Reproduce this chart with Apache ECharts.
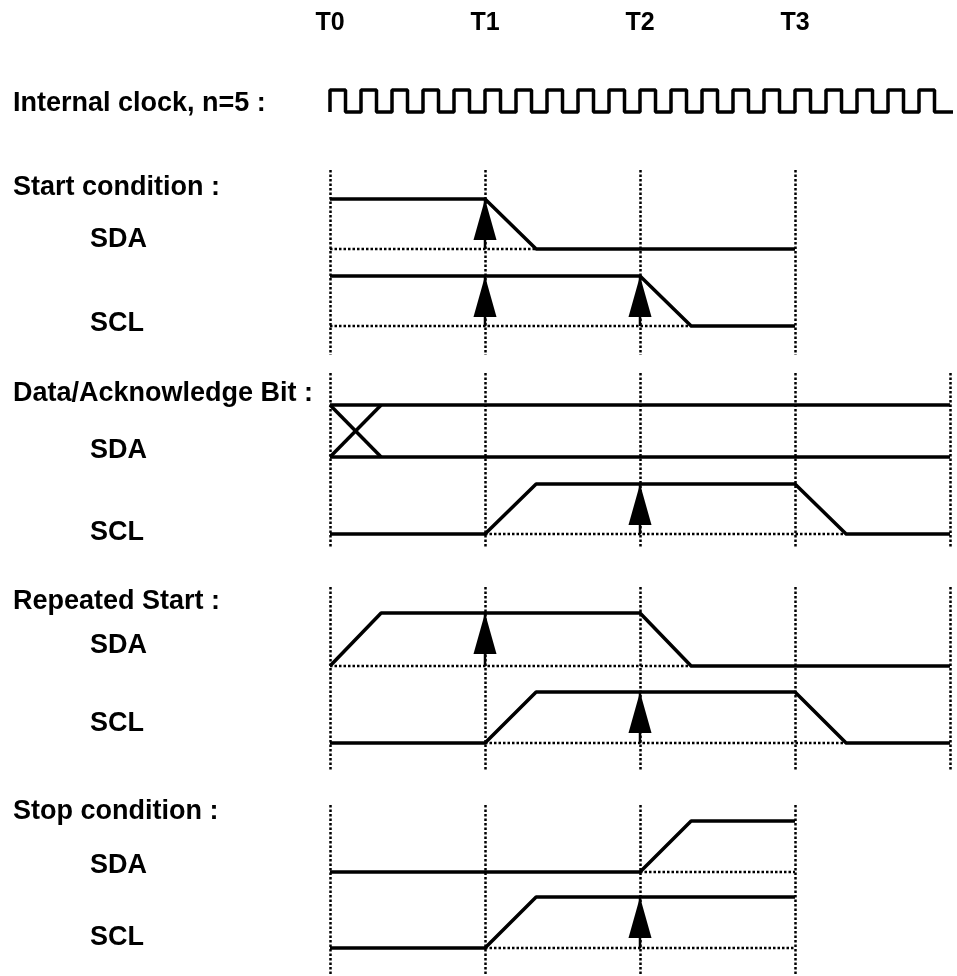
<!DOCTYPE html>
<html>
<head>
<meta charset="utf-8">
<script src="https://cdn.jsdelivr.net/npm/echarts@6/dist/echarts.min.js"></script>
<style>
  html, body { margin: 0; padding: 0; background: #fff; }
  #chart { width: 957px; height: 976px; }
</style>
</head>
<body>
<div id="chart"></div>
<script>
// ---------- data (time in T units, levels 0 = low, 1 = high) ----------
const tickLabels = ['T0', 'T1', 'T2', 'T3'];

// internal clock, n=5 : 5 clock periods per T, one level per half period
const clockHalfPeriod = 0.1;
const clockLevels = [1,0,1,0,1,0,1,0,1,0, 1,0,1,0,1,0,1,0,1,0,
                     1,0,1,0,1,0,1,0,1,0, 1,0,1,0,1,0,1,0,1,0];
const clockTailEnd = 4.05;

// Start condition
const startSDA = [[0,1],[1,1],[1.33,0],[3,0]];
const startSDABase = [[0,0],[1.33,0]];
const startSDAArrows = [1];
const startSCL = [[0,1],[2,1],[2.33,0],[3,0]];
const startSCLBase = [[0,0],[2.33,0]];
const startSCLArrows = [1, 2];

// Data / Acknowledge bit
const dataSDAHigh = [[0,1],[4,1]];
const dataSDALow = [[0,0],[4,0]];
const dataSDACrossA = [[0,1],[0.33,0]];
const dataSDACrossB = [[0,0],[0.33,1]];
const dataSCL = [[0,0],[1,0],[1.33,1],[3,1],[3.33,0],[4,0]];
const dataSCLBase = [[1,0],[3.33,0]];
const dataSCLArrows = [2];

// Repeated start
const repSDA = [[0,0],[0.33,1],[2,1],[2.33,0],[4,0]];
const repSDABase = [[0,0],[2.33,0]];
const repSDAArrows = [1];
const repSCL = [[0,0],[1,0],[1.33,1],[3,1],[3.33,0],[4,0]];
const repSCLBase = [[1,0],[3.33,0]];
const repSCLArrows = [2];

// Stop condition
const stopSDA = [[0,0],[2,0],[2.33,1],[3,1]];
const stopSDABase = [[2,0],[3,0]];
const stopSCL = [[0,0],[1,0],[1.33,1],[3,1]];
const stopSCLBase = [[1,0],[3,0]];
const stopSCLArrows = [2];

// ---------- layout ----------
const X0 = 330, TW = 155; // pixel of T0, width of one T
const FONT = '"Liberation Sans", Arial, sans-serif';
const DOT = { color: '#000', width: 2.5, type: [2.5, 2] };

const grids = [], xAxes = [], yAxes = [], series = [];

function addGrid(top, height, xMax, withSplit) {
  grids.push({ left: X0, top: top, width: TW * xMax, height: height, containLabel: false });
  const gi = grids.length - 1;
  xAxes.push({
    gridIndex: gi, type: 'value', min: 0, max: xMax, interval: 1,
    axisLine: { show: false }, axisTick: { show: false }, axisLabel: { show: false },
    splitLine: withSplit ? { show: true, showMinLine: true, showMaxLine: true, lineStyle: DOT }
                         : { show: false }
  });
  yAxes.push({
    gridIndex: gi, type: 'value', min: 0, max: 1,
    axisLine: { show: false }, axisTick: { show: false }, axisLabel: { show: false },
    splitLine: { show: false }
  });
  return gi;
}

function solid(gi, data, w) {
  series.push({ type: 'line', xAxisIndex: gi, yAxisIndex: gi, data: data, clip: false,
    symbol: 'none', z: 5, lineStyle: { color: '#000', width: w || 3.5 } });
}
function dotted(gi, data) {
  series.push({ type: 'line', xAxisIndex: gi, yAxisIndex: gi, data: data, clip: false,
    symbol: 'none', z: 3, lineStyle: DOT });
}
function arrows(gi, times) {
  times.forEach(function (t) {
    series.push({ type: 'line', xAxisIndex: gi, yAxisIndex: gi, data: [[t, 0], [t, 1]],
      clip: false, symbol: 'none', z: 4, lineStyle: { color: '#000', width: 2.5 } });
  });
  series.push({ type: 'scatter', xAxisIndex: gi, yAxisIndex: gi, clip: false, z: 6,
    data: times.map(function (t) { return [t, 1]; }),
    symbol: 'triangle', symbolSize: [23, 41], symbolOffset: [0, '50%'],
    itemStyle: { color: '#000', opacity: 1 },
    emphasis: { disabled: true } });
}

// T labels
grids.push({ left: X0, top: 40, width: TW * 3, height: 1 });
xAxes.push({ gridIndex: 0, type: 'category', data: tickLabels, boundaryGap: false, position: 'top',
  axisLine: { show: false }, axisTick: { show: false },
  axisLabel: { show: true, color: '#000', fontSize: 25, fontWeight: 'bold', fontFamily: FONT, margin: 4 } });
yAxes.push({ gridIndex: 0, type: 'value', show: false });

// clock
const gClock = addGrid(90, 22, 4, false);
const clockData = [[0, 0]];
clockLevels.forEach(function (lv, i) { clockData.push([i * clockHalfPeriod, lv]); });
clockData.push([clockTailEnd, 0]);
series.push({ type: 'line', xAxisIndex: gClock, yAxisIndex: gClock, data: clockData, step: 'end',
  clip: false, symbol: 'none', lineStyle: { color: '#000', width: 3.5 } });

// section grids with dotted vertical T lines
addGrid(170, 185, 3, true);
addGrid(373, 175, 4, true);
addGrid(587, 183, 4, true);
addGrid(805, 171, 3, true);

// Start condition
let g = addGrid(199, 50, 4, false);
dotted(g, startSDABase); solid(g, startSDA); arrows(g, startSDAArrows);
g = addGrid(276, 50, 4, false);
dotted(g, startSCLBase); solid(g, startSCL); arrows(g, startSCLArrows);

// Data / Acknowledge
g = addGrid(405, 52, 4, false);
solid(g, dataSDAHigh); solid(g, dataSDALow); solid(g, dataSDACrossA); solid(g, dataSDACrossB);
g = addGrid(484, 50, 4, false);
dotted(g, dataSCLBase); solid(g, dataSCL); arrows(g, dataSCLArrows);

// Repeated Start
g = addGrid(613, 53, 4, false);
dotted(g, repSDABase); solid(g, repSDA); arrows(g, repSDAArrows);
g = addGrid(692, 51, 4, false);
dotted(g, repSCLBase); solid(g, repSCL); arrows(g, repSCLArrows);

// Stop condition
g = addGrid(821, 51, 4, false);
dotted(g, stopSDABase); solid(g, stopSDA);
g = addGrid(897, 51, 4, false);
dotted(g, stopSCLBase); solid(g, stopSCL); arrows(g, stopSCLArrows);

// text labels
const labels = [
  ['Internal clock, n=5 :', 13, 104],
  ['Start condition :', 13, 188],
  ['SDA', 90, 240],
  ['SCL', 90, 324],
  ['Data/Acknowledge Bit :', 13, 394],
  ['SDA', 90, 451],
  ['SCL', 90, 533],
  ['Repeated Start :', 13, 602],
  ['SDA', 90, 646],
  ['SCL', 90, 724],
  ['Stop condition :', 13, 812],
  ['SDA', 90, 866],
  ['SCL', 90, 938]
];
const graphics = labels.map(function (l) {
  return { type: 'text', x: l[1], y: l[2], z: 10,
    style: { text: l[0], fill: '#000', font: 'bold 27px ' + FONT, verticalAlign: 'middle', align: 'left' } };
});

const chart = echarts.init(document.getElementById('chart'));
chart.setOption({
  backgroundColor: '#fff',
  animation: false,
  grid: grids,
  xAxis: xAxes,
  yAxis: yAxes,
  series: series,
  graphic: graphics
});
</script>
</body>
</html>
